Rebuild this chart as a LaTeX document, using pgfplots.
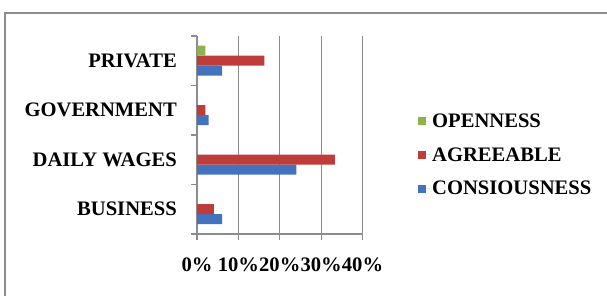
\documentclass[border=0pt]{standalone}
\usepackage{fontspec}
\setmainfont{Liberation Serif}
\usepackage{pgfplots}
\pgfplotsset{compat=1.18}
\definecolor{cblue}{HTML}{4372BE}
\definecolor{cred}{HTML}{BE3C3A}
\definecolor{cgreen}{HTML}{8DB44A}
\definecolor{gridc}{HTML}{8C8C8C}
\begin{document}
\begin{tikzpicture}
\path[use as bounding box] (0pt,0pt) rectangle (607pt,296pt);
\draw[gridc, line width=1.5pt] (5pt,0pt) -- (5pt,283pt) -- (607pt,283pt);
\begin{axis}[
  at={(197pt,62pt)}, anchor=south west,
  scale only axis, width=165.5pt, height=198pt,
  xbar, bar width=10pt,
  xmin=0, xmax=40, ymin=-0.5, ymax=3.5,
  xtick={0,10,20,30,40},
  xticklabels={0\%,10\%,20\%,30\%,40\%},
  ytick={0,1,2,3},
  yticklabels={BUSINESS,DAILY WAGES,GOVERNMENT,PRIVATE},
  minor ytick={-0.5,0.5,1.5,2.5,3.5},
  major tick length=0pt,
  minor tick length=6pt,
  extra x ticks={0,10,20,30,40}, extra x tick labels={},
  extra x tick style={major tick length=6pt, grid=major},
  tick align=outside,
  axis x line*=bottom, axis y line*=left,
  axis line style={gridc, line width=1.2pt},
  every tick/.style={gridc, line width=1.2pt},
  xmajorgrids, major grid style={gridc, line width=1.2pt},
  tick label style={font=\fontsize{20.6}{24}\selectfont\bfseries},
  yticklabel style={inner sep=0pt, xshift=-20pt},
  xticklabel style={inner sep=0pt, yshift=-24pt},
  legend style={at={(1.317,0.399)}, anchor=west, draw=none, fill=none,
    font=\fontsize{20.6}{24}\selectfont\bfseries, row sep=14.5pt},
  legend cell align=left,
  reverse legend,
]
\addplot[fill=cblue, draw=none, bar shift=-10pt,
  legend image code/.code={\fill[cblue] (0pt,-4pt) rectangle (8pt,4pt); \path (8pt,0pt) -- (12pt,0pt);}]
  coordinates {(6.1,0) (24,1) (2.8,2) (6.1,3)};
\addlegendentry{CONSIOUSNESS}
\addplot[fill=cred, draw=none, bar shift=0pt,
  legend image code/.code={\fill[cred] (0pt,-4pt) rectangle (8pt,4pt); \path (8pt,0pt) -- (12pt,0pt);}]
  coordinates {(4.1,0) (33.3,1) (2,2) (16.3,3)};
\addlegendentry{AGREEABLE}
\addplot[fill=cgreen, draw=none, bar shift=10pt,
  legend image code/.code={\fill[cgreen] (0pt,-4pt) rectangle (8pt,4pt); \path (8pt,0pt) -- (12pt,0pt);}]
  coordinates {(0,0) (0,1) (0,2) (2,3)};
\addlegendentry{OPENNESS}
\end{axis}
\end{tikzpicture}
\end{document}
